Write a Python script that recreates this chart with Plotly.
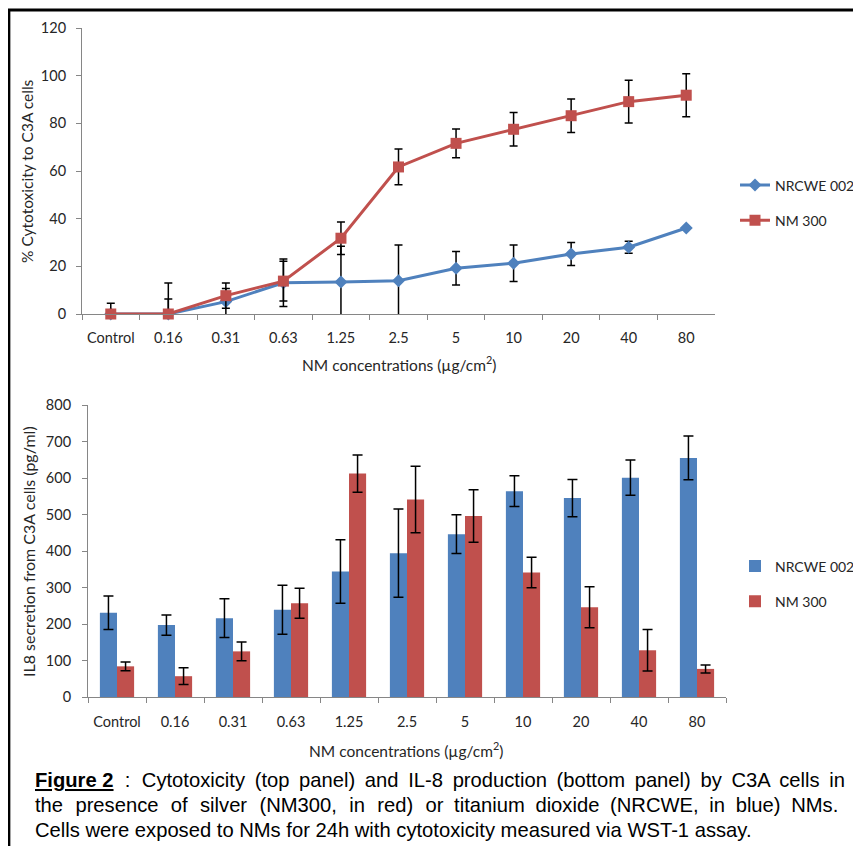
import plotly.graph_objects as go

categories = ["Control", "0.16", "0.31", "0.63", "1.25", "2.5", "5", "10", "20", "40", "80"]

# Top panel: % cytotoxicity
cyto_nrcwe = [0, 0, 5.2, 13.1, 13.4, 14.0, 19.2, 21.3, 25.2, 28.0, 36.1]
cyto_nrcwe_err = [0, 13, 5.5, 10, 15, 15, 7, 7.7, 4.8, 2.5, 0]
cyto_nm300 = [0, 0, 7.7, 13.8, 31.8, 61.7, 71.6, 77.5, 83.2, 89.1, 91.8]
cyto_nm300_err = [4.5, 6.3, 5.3, 8.3, 6.8, 7.5, 6, 7, 7, 9, 9]

# Bottom panel: IL-8 secretion (pg/ml)
il8_nrcwe = [231, 197, 216, 239, 344, 394, 446, 564, 545, 601, 655]
il8_nrcwe_err = [46, 28, 53, 67, 87, 121, 53, 42, 51, 48, 60]
il8_nm300 = [84, 57, 125, 257, 612, 541, 496, 341, 246, 128, 77]
il8_nm300_err = [12, 23, 26, 41, 51, 91, 72, 42, 56, 57, 11]

BLUE = "#4F81BD"
RED = "#C0504D"
AXIS = "#868686"
TXT = "#262626"
FONT = "Lato, Open Sans, sans-serif"
CAPFONT = "Liberation Sans Narrow, Arial Narrow, Liberation Sans"

OFF = 8  # page body margin
W, H = 861 - OFF, 854 - 2 * OFF
def px(x):
    return (x - OFF) / W
def py(y):
    return 1 - (y - OFF) / H

fig = go.Figure()

fig.add_trace(go.Scatter(
    x=categories, y=cyto_nrcwe, name="NRCWE 002", mode="lines+markers", legendgroup="a",
    line=dict(color=BLUE, width=3), marker=dict(symbol="diamond", size=10, color=BLUE),
    error_y=dict(type="data", array=cyto_nrcwe_err, color="black", thickness=1.5, width=4),
    cliponaxis=False, xaxis="x", yaxis="y", legend="legend"))
fig.add_trace(go.Scatter(
    x=categories, y=cyto_nm300, name="NM 300", mode="lines+markers", legendgroup="b",
    line=dict(color=RED, width=3), marker=dict(symbol="square", size=11, color=RED),
    error_y=dict(type="data", array=cyto_nm300_err, color="black", thickness=1.5, width=4),
    cliponaxis=False, xaxis="x", yaxis="y", legend="legend"))

fig.add_trace(go.Bar(
    x=categories, y=il8_nrcwe, name="NRCWE 002", legendgroup="c",
    marker=dict(color=BLUE, line=dict(width=0)),
    error_y=dict(type="data", array=il8_nrcwe_err, color="black", thickness=1.5, width=5),
    xaxis="x2", yaxis="y2", legend="legend2"))
fig.add_trace(go.Bar(
    x=categories, y=il8_nm300, name="NM 300", legendgroup="d",
    marker=dict(color=RED, line=dict(width=0)),
    error_y=dict(type="data", array=il8_nm300_err, color="black", thickness=1.5, width=5),
    xaxis="x2", yaxis="y2", legend="legend2"))

axis_common = dict(showline=True, linecolor=AXIS, linewidth=1, ticks="outside",
                   tickcolor=AXIS, ticklen=5, showgrid=False, zeroline=False,
                   tickfont=dict(family=FONT, size=14.5, color=TXT))

legend_common = dict(xanchor="left", yanchor="middle", bgcolor="rgba(0,0,0,0)",
                     font=dict(family=FONT, size=14, color=TXT), tracegroupgap=14)

fig.update_layout(
    width=W, height=H, margin=dict(l=0, r=0, t=0, b=0, autoexpand=False),
    paper_bgcolor="white", plot_bgcolor="white",
    barmode="group", bargap=0.41, bargroupgap=0,
    font=dict(family=FONT, color=TXT),
    xaxis=dict(domain=[px(82), px(715)], anchor="y", type="category", ticklabelstandoff=11,
               range=[-0.5, 10.5], tickson="boundaries", **axis_common),
    yaxis=dict(domain=[py(314), py(28)], anchor="x", range=[0, 120], dtick=20,
               ticklabelstandoff=7, **axis_common),
    xaxis2=dict(domain=[px(88), px(726)], anchor="y2", type="category", ticklabelstandoff=12,
                range=[-0.5, 10.5], tickson="boundaries", **axis_common),
    yaxis2=dict(domain=[py(697), py(405)], anchor="x2", range=[0, 800], dtick=100,
                ticklabelstandoff=8, **axis_common),
    legend=dict(x=px(735), y=py(203), **legend_common),
    legend2=dict(x=px(735), y=py(584), **legend_common),
)

annotations = [
    dict(text="% Cytotoxicity to C3A cells", x=px(27), y=py(171), textangle=-90,
         font=dict(family=FONT, size=15.5, color=TXT)),
    dict(text="NM concentrations (µg/cm<sup>2</sup>)", x=px(399), y=py(364),
         font=dict(family=FONT, size=15.5, color=TXT)),
    dict(text="IL8 secretion from C3A cells (pg/ml)", x=px(28), y=py(552), textangle=-90,
         font=dict(family=FONT, size=16, color=TXT)),
    dict(text="NM concentrations (µg/cm<sup>2</sup>)", x=px(406), y=py(749),
         font=dict(family=FONT, size=15.5, color=TXT)),
]

def justify(words, gaps):
    out = words[0]
    for w, g in zip(words[1:], gaps):
        out += g + w
    return out

line1_words = ["<b><u>Figure 2</u></b>", ":", "Cytotoxicity", "(top", "panel)", "and", "IL-8",
               "production", "(bottom", "panel)", "by", "C3A", "cells", "in"]
line2_words = ["the", "presence", "of", "silver", "(NM300,", "in", "red)", "or", "titanium",
               "dioxide", "(NRCWE,", "in", "blue)", "NMs."]
gaps1 = [" \u2009\u200a"] * 2 + [" \u2009"] * 11
gaps2 = [" \u2005\u200a"] * 7 + [" \u2005"] * 6
caption = [
    justify(line1_words, gaps1),
    justify(line2_words, gaps2),
    "Cells were exposed to NMs for 24h with cytotoxicity measured via WST-1 assay.",
]
for i, line in enumerate(caption):
    annotations.append(dict(text=line, x=px(33), y=py(780 + 25 * i), xanchor="left",
                            font=dict(family=CAPFONT, size=20.2, color="black")))
for a in annotations:
    a.setdefault("xanchor", "center")
    a.update(xref="paper", yref="paper", yanchor="middle", showarrow=False)
fig.update_layout(annotations=annotations)

fig.update_layout(shapes=[
    dict(type="line", xref="paper", yref="paper", x0=0, x1=1, y0=py(10), y1=py(10),
         line=dict(color="black", width=3)),
    dict(type="line", xref="paper", yref="paper", x0=0.001, x1=0.001, y0=py(10), y1=0,
         line=dict(color="black", width=3)),
])

fig.write_html("out.html")
